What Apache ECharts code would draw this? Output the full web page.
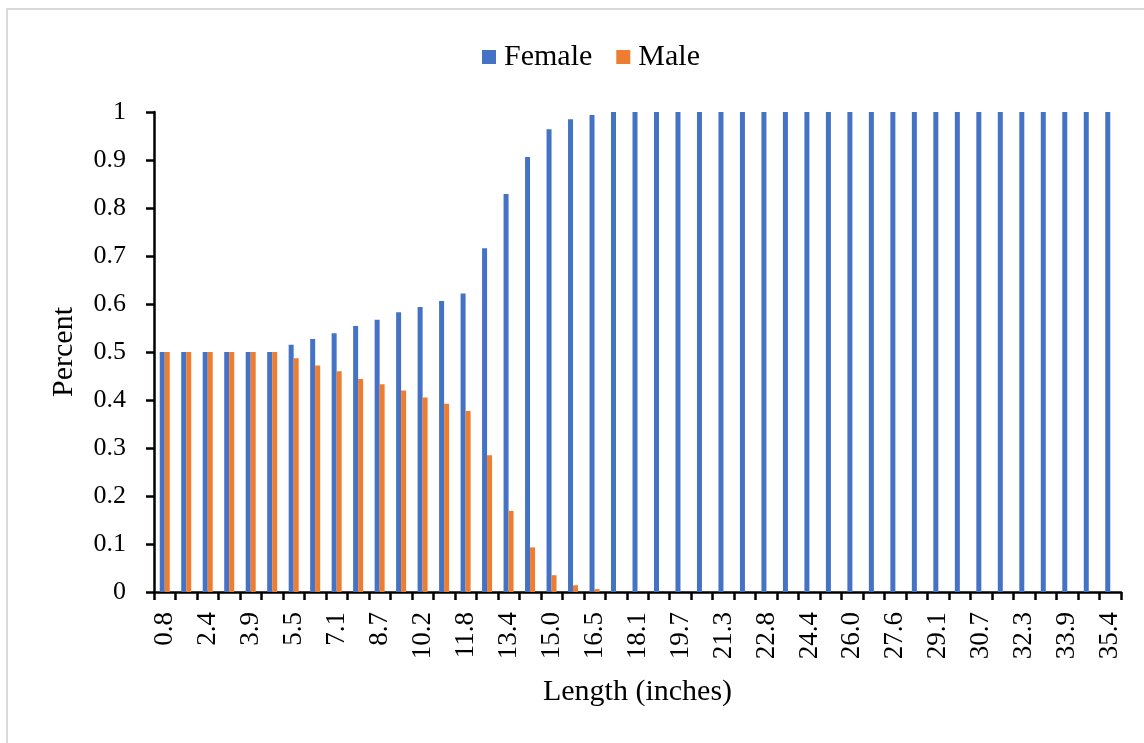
<!DOCTYPE html>
<html>
<head>
<meta charset="utf-8">
<script src="https://cdn.jsdelivr.net/npm/echarts@6/dist/echarts.min.js"></script>
<style>
html,body{margin:0;padding:0;background:#fff;}
#wrap{position:relative;width:1144px;height:743px;overflow:hidden;}
#chart{position:absolute;left:0;top:0;width:1144px;height:743px;}
#frame{position:absolute;left:6px;top:8px;width:1200px;height:800px;border-left:2px solid #d9d9d9;border-top:2px solid #d9d9d9;pointer-events:none;}
</style>
</head>
<body>
<div id="wrap"><div id="chart"></div><div id="frame"></div></div>
<script>
const categories = ["0.8","1.6","2.4","3.1","3.9","4.7","5.5","6.3","7.1","7.9","8.7","9.4","10.2","11.0","11.8","12.6","13.4","14.2","15.0","15.7","16.5","17.3","18.1","18.9","19.7","20.5","21.3","22.0","22.8","23.6","24.4","25.2","26.0","26.8","27.6","28.3","29.1","29.9","30.7","31.5","32.3","33.1","33.9","34.6","35.4"];
const female = [0.5,0.5,0.5,0.5,0.5,0.5,0.515,0.527,0.539,0.554,0.567,0.583,0.594,0.606,0.622,0.716,0.829,0.906,0.964,0.985,0.994,1,1,1,1,1,1,1,1,1,1,1,1,1,1,1,1,1,1,1,1,1,1,1,1];
const male = [0.5,0.5,0.5,0.5,0.5,0.5,0.487,0.472,0.46,0.444,0.433,0.42,0.405,0.392,0.377,0.285,0.169,0.093,0.035,0.014,0.006,0,0,0,0,0,0,0,0,0,0,0,0,0,0,0,0,0,0,0,0,0,0,0,0];
const yTicks = [0,0.1,0.2,0.3,0.4,0.5,0.6,0.7,0.8,0.9,1];

const font = '"Liberation Serif","Times New Roman",serif';
const chart = echarts.init(document.getElementById('chart'));
chart.setOption({
  animation:false,
  textStyle:{fontFamily:font,color:'#000'},
  legend:{
    top:37,left:477,itemWidth:14,itemHeight:14,itemGap:24,icon:'rect',
    textStyle:{fontFamily:font,fontSize:30,color:'#000',padding:[0,0,0,3]},
    data:['Female','Male']
  },
  grid:{left:154,right:23,top:112,bottom:151,containLabel:false},
  xAxis:{
    type:'category',data:categories,boundaryGap:true,
    name:'Length (inches)',nameLocation:'middle',nameGap:85,
    nameTextStyle:{fontFamily:font,fontSize:30,color:'#000'},
    axisLine:{lineStyle:{color:'#000',width:2.5}},
    axisTick:{show:true,interval:0,length:8,lineStyle:{color:'#000',width:2.5}},
    axisLabel:{interval:1,rotate:90,fontFamily:font,fontSize:27,color:'#000',margin:20}
  },
  yAxis:{
    type:'value',min:0,max:1,interval:0.1,
    name:'Percent',nameLocation:'middle',nameGap:75,nameRotate:90,
    nameTextStyle:{fontFamily:font,fontSize:30,color:'#000'},
    axisLine:{show:true,lineStyle:{color:'#000',width:2.5}},
    axisTick:{show:true,length:8,lineStyle:{color:'#000',width:2.5}},
    splitLine:{show:false},
    axisLabel:{fontFamily:font,fontSize:26,color:'#000',margin:28,
      formatter:function(v){return yTicks.indexOf(Math.round(v*10)/10)>=0?String(Math.round(v*10)/10):'';}}
  },
  series:[
    {name:'Female',type:'bar',data:female,barWidth:5,barGap:'0%',itemStyle:{color:'#4472c4'}},
    {name:'Male',type:'bar',data:male,barWidth:5,barGap:'0%',itemStyle:{color:'#ed7d31'}}
  ]
});
</script>
</body>
</html>
